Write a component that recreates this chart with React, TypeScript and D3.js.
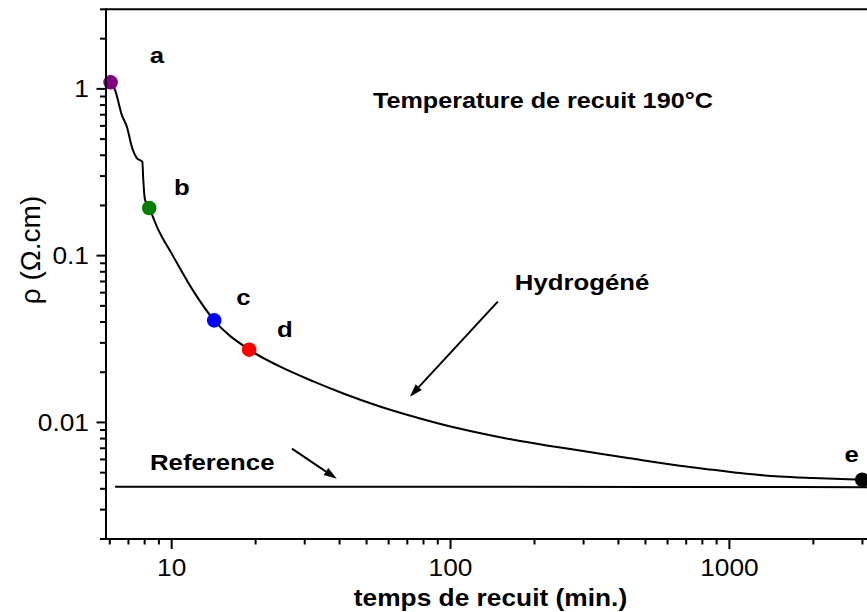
import React from "react";
import * as d3 from "d3";

// Hydrogéné curve (annealing time in min, resistivity in ohm.cm)
const hydroTime = [6.04, 6.26, 6.62, 6.93, 7.19, 7.49, 7.85, 7.91, 8.02, 8.31, 8.84, 10.13, 11.95, 14.21, 18.97, 24.4, 32.2, 42.4, 55.8, 73.4, 96.7, 127, 168, 221, 291, 439, 664, 873, 1151, 1515, 1993, 2997];
const hydroRho = [1.09, 0.99, 0.701, 0.583, 0.452, 0.386, 0.365, 0.286, 0.217, 0.193, 0.15, 0.099, 0.0615, 0.0409, 0.0273, 0.02167, 0.01762, 0.01466, 0.01247, 0.01086, 0.00959, 0.00864, 0.00787, 0.00728, 0.00679, 0.0061, 0.0055, 0.0052, 0.00492, 0.00474, 0.00464, 0.00453];

// reference sample
const refTime = [6.27, 100, 1000, 3300];
const refRho = [0.00411, 0.00411, 0.0041, 0.00409];

// marked samples
const sampleNames = ["a", "b", "c", "d", "e"];
const sampleTime = [6.04, 8.31, 14.21, 18.97, 2997];
const sampleRho = [1.095, 0.193, 0.0409, 0.0273, 0.00453];
const sampleColors = ["#800080", "#008000", "#0000ff", "#ff0000", "#000000"];
// where the letters sit (data coords)
const letterTime = [8.86, 10.89, 18.08, 25.47, 2744];
const letterRho = [1.438, 0.232, 0.0508, 0.0327, 0.00581];

const xTickLabels = [10, 100, 1000];
const yTickLabels = [0.01, 0.1, 1];

const W = 867;
const H = 612;
const FONT = "'Liberation Sans', Arial, Helvetica, sans-serif";
const SX = 1.12; // the original picture is a bit stretched horizontally

const Txt = (p: { x: number; y: number; size: number; bold?: boolean; anchor?: string; children: React.ReactNode }) => (
  <g transform={`translate(${p.x},${p.y}) scale(${SX},1)`}>
    <text
      textAnchor={p.anchor || "start"}
      fontSize={p.size}
      fontWeight={p.bold ? "bold" : "normal"}
      fontFamily={FONT}
      fill="#000"
    >
      {p.children}
    </text>
  </g>
);

const Arrow = (p: { x1: number; y1: number; x2: number; y2: number }) => {
  const ang = Math.atan2(p.y2 - p.y1, p.x2 - p.x1);
  const len = 13;
  const hw = 4.2;
  const bx = p.x2 - len * Math.cos(ang);
  const by = p.y2 - len * Math.sin(ang);
  const nx = -Math.sin(ang) * hw;
  const ny = Math.cos(ang) * hw;
  return (
    <g>
      <line x1={p.x1} y1={p.y1} x2={bx} y2={by} stroke="#000" strokeWidth={2} />
      <polygon points={`${p.x2},${p.y2} ${bx + nx},${by + ny} ${bx - nx},${by - ny}`} fill="#000" />
    </g>
  );
};

const logTicks = (lo: number, hi: number) => {
  const out: { v: number; major: boolean }[] = [];
  for (let e = -4; e <= 4; e++) {
    for (let m = 1; m <= 9; m++) {
      const v = m * Math.pow(10, e);
      if (v >= lo * 0.999 && v <= hi * 1.001) out.push({ v, major: m === 1 });
    }
  }
  return out;
};

const App = () => {
  const x = d3.scaleLog().domain([5.815, 3300]).range([106, 874]);
  const y = d3.scaleLog().domain([0.002, 3]).range([539, 9.3]);

  const line = d3
    .line<[number, number]>()
    .x((d) => x(d[0]))
    .y((d) => y(d[1]))
    .curve(d3.curveMonotoneX);

  const hydro = hydroTime.map((t, i) => [t, hydroRho[i]] as [number, number]);
  const ref = refTime.map((t, i) => [t, refRho[i]] as [number, number]);

  const xTicks = logTicks(5.815, 3300);
  const yTicks = logTicks(0.002, 3);

  const left = x.range()[0];
  const bottom = y.range()[0];
  const top = y.range()[1];

  return (
    <svg
      width={W}
      height={H}
      style={{ position: "absolute", left: 0, top: 0, background: "#fff" }}
    >
      {/* curves */}
      <path d={line(ref) || ""} fill="none" stroke="#000" strokeWidth={2} />
      <path d={line(hydro) || ""} fill="none" stroke="#000" strokeWidth={2} />

      {/* sample points */}
      {sampleTime.map((t, i) => (
        <circle key={i} cx={x(t)} cy={y(sampleRho[i])} r={7.3} fill={sampleColors[i]} />
      ))}
      {sampleNames.map((n, i) => (
        <Txt key={n} x={x(letterTime[i])} y={y(letterRho[i])} size={23} bold anchor="middle">
          {n}
        </Txt>
      ))}

      {/* annotations */}
      <Txt x={x(52.7)} y={y(0.77)} size={22.5} bold>
        Temperature de recuit 190°C
      </Txt>
      <Txt x={x(170)} y={y(0.0625)} size={23} bold>
        Hydrogéné
      </Txt>
      <Arrow x1={x(147.7)} y1={y(0.053)} x2={x(71.5)} y2={y(0.01426)} />
      <Txt x={x(8.36)} y={y(0.0052)} size={23} bold>
        Reference
      </Txt>
      <Arrow x1={x(27)} y1={y(0.00696)} x2={x(39.1)} y2={y(0.00459)} />

      {/* frame */}
      <line x1={left} y1={top} x2={W + 10} y2={top} stroke="#000" strokeWidth={2} />
      <line x1={left} y1={top - 1} x2={left} y2={bottom + 1} stroke="#000" strokeWidth={2} />
      <line x1={left - 1} y1={bottom} x2={W + 10} y2={bottom} stroke="#000" strokeWidth={2} />

      {/* x axis ticks */}
      {xTicks.map((t) => (
        <line
          key={"xt" + t.v}
          x1={x(t.v)}
          x2={x(t.v)}
          y1={bottom}
          y2={bottom + (t.major ? 10 : 5.5)}
          stroke="#000"
          strokeWidth={2}
        />
      ))}
      {xTickLabels.map((v) => (
        <Txt key={"xl" + v} x={x(v)} y={bottom + 37} size={23.5} anchor="middle">
          {v}
        </Txt>
      ))}

      {/* y axis ticks */}
      {yTicks.map((t) => (
        <line
          key={"yt" + t.v}
          x1={left}
          x2={left - (t.major ? 9.5 : 6)}
          y1={y(t.v)}
          y2={y(t.v)}
          stroke="#000"
          strokeWidth={2}
        />
      ))}
      {yTickLabels.map((v) => (
        <Txt key={"yl" + v} x={89} y={y(v) + 8.5} size={23.5} anchor="end">
          {v}
        </Txt>
      ))}

      {/* axis titles */}
      <Txt x={(left + W) / 2 + 4} y={606} size={23.5} bold anchor="middle">
        temps de recuit (min.)
      </Txt>
      <g transform={`translate(40,250) rotate(-90)`}>
        <text textAnchor="middle" fontSize={28} fontFamily={FONT} fill="#000">
          ρ (Ω.cm)
        </text>
      </g>
    </svg>
  );
};

export default App;
